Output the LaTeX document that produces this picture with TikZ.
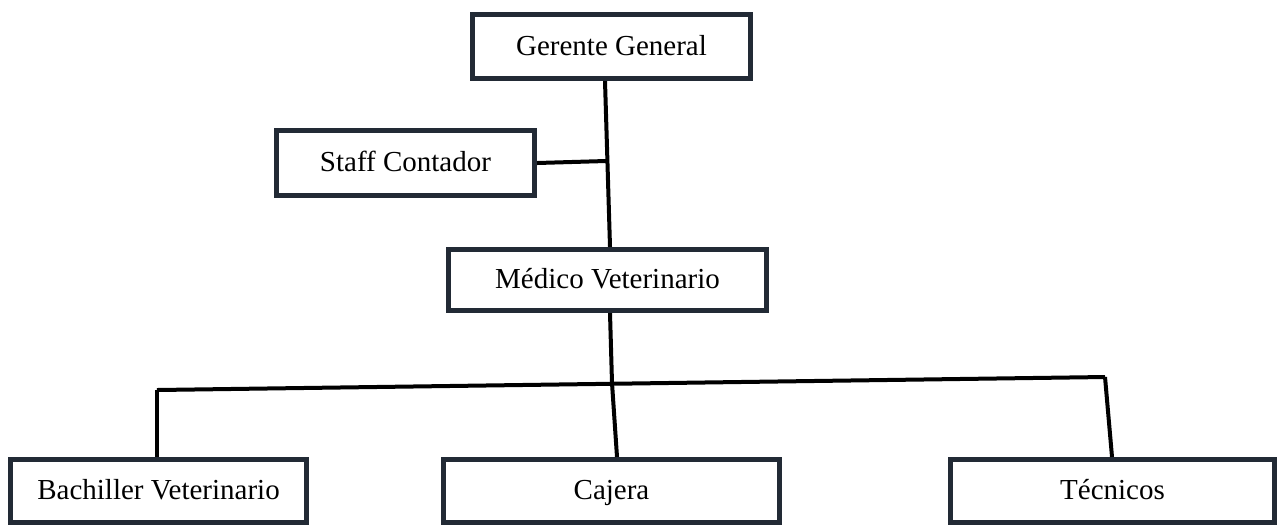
\documentclass[tikz,border=0pt]{standalone}
\usepackage{fontspec}
\setmainfont{Liberation Serif}
\usepackage{xcolor}
\usetikzlibrary{positioning, calc}
\definecolor{boxline}{HTML}{222A35}

\begin{document}
\begin{tikzpicture}[x=0.5pt, y=-0.5pt,
    orgbox/.style={draw=boxline, line width=2.6pt, fill=white, inner sep=0pt,
                   text height=10pt, text depth=1.5pt,
                   minimum height=31.5pt, font=\fontsize{14.5}{17}\selectfont},
    link/.style={black, line width=2pt}]
  \useasboundingbox (0,0) rectangle (1278,527);
  % Boxes
  \node[orgbox, minimum width=139pt, minimum height=32pt] (gg) at (611.5, 46.5) {Gerente General};
  \node[orgbox, minimum width=129pt, minimum height=32.5pt] (sc) at (405.5, 163) {Staff Contador};
  \node[orgbox, minimum width=159pt, minimum height=30.5pt] (mv) at (607.5, 280) {Médico Veterinario};
  \node[orgbox, minimum width=148pt] (bv) at (158.5, 491) {Bachiller Veterinario};
  \node[orgbox, minimum width=168pt] (cj) at (611.5, 491) {Cajera};
  \node[orgbox, minimum width=162pt] (tc) at (1112.5, 491) {Técnicos};
  % Junction points
  \coordinate (staffJoin) at (606, 161);
  \coordinate (busMid) at (612, 383);
  \coordinate (busLeft) at (157, 390);
  \coordinate (busRight) at (1105, 377);
  % Connectors
  \draw[link] ($(gg.south)+(-6.5,0)$) -- ($(mv.north)+(2.5,0)$);
  \draw[link] (sc.east) -- (staffJoin);
  \draw[link] ($(mv.south)+(2.5,0)$) -- (busMid) -- ($(cj.north)+(5.5,0)$);
  \draw[link] (busLeft) -- (busRight);
  \draw[link] (bv.north -| busLeft) -- (busLeft);
  \draw[link] (busRight) -- ($(tc.north)+(-0.5,0)$);
\end{tikzpicture}
\end{document}
